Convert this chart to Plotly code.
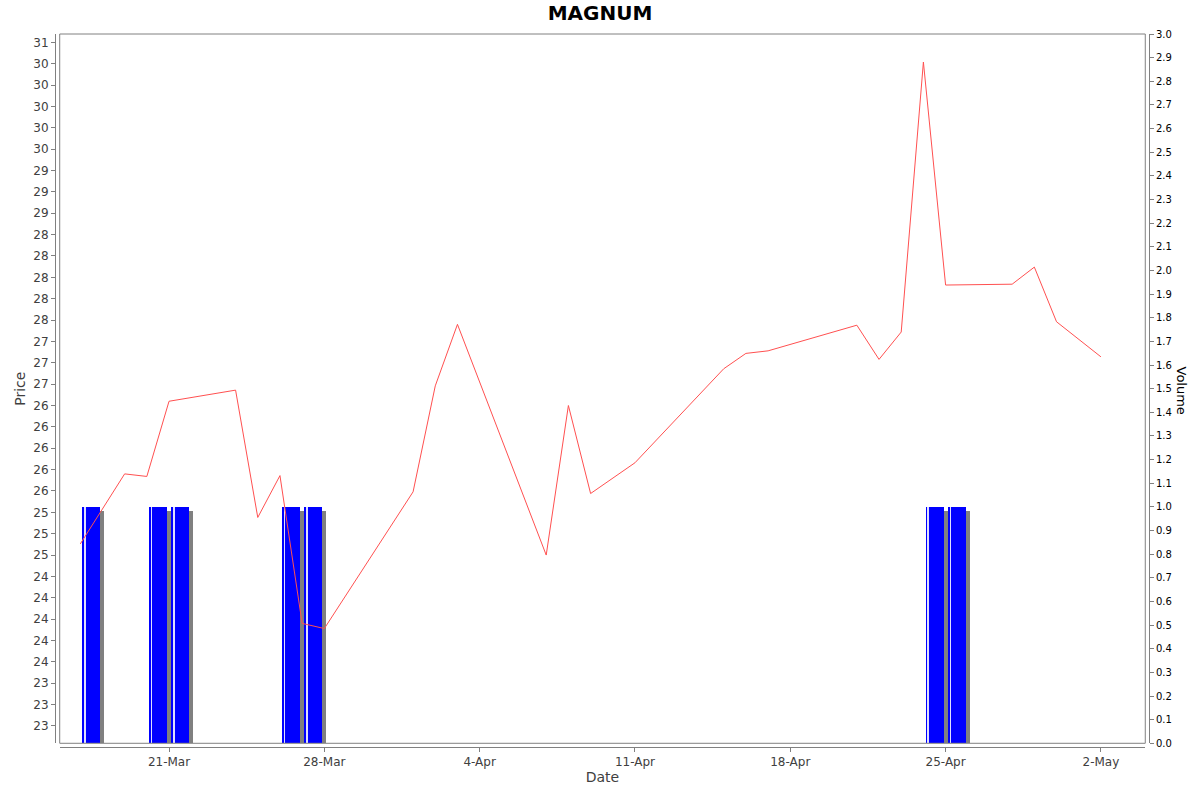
import pandas as pd
import plotly.graph_objects as go

# ---------------- data ----------------
dates = ["2025-03-17", "2025-03-19", "2025-03-20", "2025-03-21", "2025-03-24",
         "2025-03-25", "2025-03-26", "2025-03-27", "2025-03-28", "2025-04-01",
         "2025-04-02", "2025-04-03", "2025-04-07", "2025-04-08", "2025-04-09",
         "2025-04-11", "2025-04-15", "2025-04-16", "2025-04-17", "2025-04-21",
         "2025-04-22", "2025-04-23", "2025-04-24", "2025-04-25", "2025-04-28",
         "2025-04-29", "2025-04-30", "2025-05-02"]
prices = [24.88, 25.70, 25.67, 26.55, 26.68,
          25.19, 25.68, 23.95, 23.89, 25.49,
          26.73, 27.45, 24.75, 26.50, 25.47,
          25.83, 26.93, 27.11, 27.14, 27.44,
          27.04, 27.36, 30.52, 27.91, 27.92,
          28.12, 27.48, 27.07]

vol_dates = ["2025-03-17", "2025-03-20", "2025-03-21", "2025-03-26",
             "2025-03-27", "2025-04-24", "2025-04-25"]
volumes = [1, 1, 1, 1, 1, 1, 1]

price_tick_values = [22.75, 23.0, 23.25, 23.5, 23.75, 24.0, 24.25, 24.5, 24.75,
                     25.0, 25.25, 25.5, 25.75, 26.0, 26.25, 26.5, 26.75, 27.0,
                     27.25, 27.5, 27.75, 28.0, 28.25, 28.5, 28.75, 29.0, 29.25,
                     29.5, 29.75, 30.0, 30.25, 30.5, 30.75]
price_tick_labels = ["23", "23", "23", "24", "24", "24", "24", "24", "25",
                     "25", "25", "26", "26", "26", "26", "26", "27", "27",
                     "27", "28", "28", "28", "28", "28", "29", "29", "29",
                     "30", "30", "30", "30", "30", "31"]

x_tick_dates = ["2025-03-21", "2025-03-28", "2025-04-04", "2025-04-11",
                "2025-04-18", "2025-04-25", "2025-05-02"]
x_tick_labels = ["21-Mar", "28-Mar", "4-Apr", "11-Apr", "18-Apr", "25-Apr", "2-May"]

# ---------------- styling ----------------
FONT = "DejaVu Sans"
AXIS_GREY = "#808080"
LABEL_GREY = "#404040"
DAY_MS = 86400000
PX_PER_DAY = 22.19
PX_PER_VOL = 236.0

bar_centers = pd.to_datetime(vol_dates) + pd.Timedelta(hours=11.7)
bar_width = 0.81 * DAY_MS
shadow_centers = bar_centers + pd.Timedelta(days=4 / PX_PER_DAY)
shadow_vals = [v - 4 / PX_PER_VOL for v in volumes]
hl_centers = bar_centers - pd.Timedelta(days=(0.81 / 2) - 2.6 / PX_PER_DAY)

fig = go.Figure()

# shadow
fig.add_trace(go.Bar(x=shadow_centers, y=shadow_vals, width=[bar_width] * len(volumes),
                     marker=dict(color="#808080", line=dict(width=0)),
                     xaxis="x", yaxis="y", showlegend=False, hoverinfo="skip"))
# bars
fig.add_trace(go.Bar(x=bar_centers, y=volumes, width=[bar_width] * len(volumes),
                     marker=dict(color="#0000FF", line=dict(width=0)),
                     xaxis="x", yaxis="y", showlegend=False, name="Volume"))
# highlight stripe
fig.add_trace(go.Bar(x=hl_centers, y=volumes, width=[1.6 / PX_PER_DAY * DAY_MS] * len(volumes),
                     marker=dict(color="rgba(235,235,255,0.95)", line=dict(width=0)),
                     xaxis="x", yaxis="y", showlegend=False, hoverinfo="skip"))

# price line (on overlay axis, drawn above bars)
fig.add_trace(go.Scatter(x=pd.to_datetime(dates), y=prices, mode="lines",
                         line=dict(color="#FF5050", width=1),
                         xaxis="x", yaxis="y2", showlegend=False, name="Price"))

fig.update_layout(
    width=1200, height=792,
    margin=dict(l=55, r=51, t=34, b=45, autoexpand=False),
    paper_bgcolor="white", plot_bgcolor="white",
    barmode="overlay", bargap=0,
    font=dict(family=FONT, color=LABEL_GREY),
    title=dict(text="<b>MAGNUM</b>", x=0.5, xanchor="center", y=0.984, yanchor="middle",
               font=dict(family=FONT, size=20, color="black")),
    xaxis=dict(
        type="date", automargin=False,
        domain=[0.0043, 0.9966],
        anchor="free", position=0,
        range=["2025-03-16 01:45", "2025-05-04 00:00"],
        tickvals=x_tick_dates, ticktext=x_tick_labels,
        showgrid=False, zeroline=False,
        showline=True, linecolor=AXIS_GREY, linewidth=1,
        ticks="outside", ticklen=4, tickcolor=AXIS_GREY,
        tickfont=dict(family=FONT, size=12, color=LABEL_GREY),
        title=dict(text="Date", font=dict(family=FONT, size=14, color=LABEL_GREY), standoff=2),
    ),
    yaxis=dict(  # volume (right)
        automargin=False,
        domain=[0.0052, 1],
        side="right", anchor="free", position=1,
        range=[0, 3.0], tick0=0, dtick=0.1, tickformat=".1f",
        showgrid=False, zeroline=False,
        showline=True, linecolor=AXIS_GREY, linewidth=1,
        ticks="outside", ticklen=4, tickcolor=AXIS_GREY,
        tickfont=dict(family=FONT, size=10, color="black"),
    ),
    yaxis2=dict(  # price (left)
        automargin=False,
        overlaying="y",
        side="left", anchor="free", position=0,
        range=[22.547, 30.848],
        tickvals=price_tick_values, ticktext=price_tick_labels,
        showgrid=False, zeroline=False,
        showline=True, linecolor=AXIS_GREY, linewidth=1,
        ticks="outside", ticklen=4, tickcolor=AXIS_GREY,
        tickfont=dict(family=FONT, size=12, color=LABEL_GREY),
        title=dict(text="Price", font=dict(family=FONT, size=14, color=LABEL_GREY), standoff=3),
    ),
    shapes=[dict(type="rect", xref="x domain", yref="y domain", x0=0, x1=1, y0=0, y1=1,
                 line=dict(color=AXIS_GREY, width=1), fillcolor="rgba(0,0,0,0)", layer="above")],
    annotations=[dict(text="Volume", textangle=90, xref="paper", yref="paper",
                      x=1.0, xanchor="center", xshift=32, y=0.5, yanchor="middle",
                      showarrow=False,
                      font=dict(family=FONT, size=13, color="black"))],
)

fig.write_html("out.html",
               config={"displayModeBar": False},
               post_script="document.body.style.margin='0';document.body.style.overflow='hidden';")
